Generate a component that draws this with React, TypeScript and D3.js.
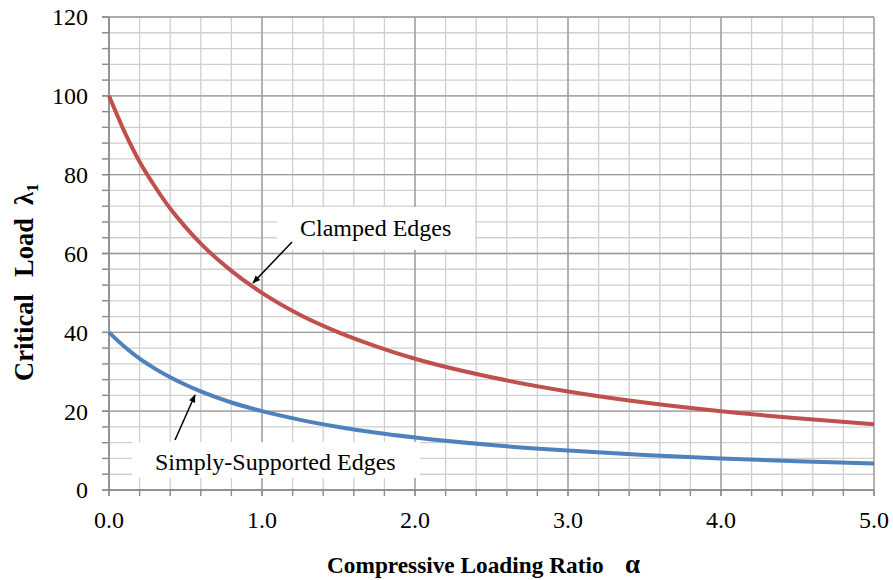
import React from 'react';
import * as d3 from 'd3';

const alpha = [0, 0.1, 0.2, 0.3, 0.4, 0.5, 0.6, 0.8, 1.0, 1.25, 1.5, 1.75, 2.0, 2.5, 3.0, 3.5, 4.0, 4.5, 5.0];
const clamped = [100, 91, 83.3, 77, 71.4, 66.7, 62.5, 55.6, 50, 44.4, 40, 36.4, 33.3, 28.6, 25, 22.2, 20, 18.2, 16.7];
const simply = [40, 36.4, 33.3, 30.8, 28.6, 26.7, 25, 22.2, 20, 17.8, 16, 14.5, 13.3, 11.4, 10, 8.9, 8, 7.3, 6.7];

const xMajor = [0, 1, 2, 3, 4, 5];
const yMajor = [0, 20, 40, 60, 80, 100, 120];

const W = 893;
const H = 580;
const margin = { top: 17, right: 19, bottom: 90, left: 109 };

const App = () => {
  const x = d3.scaleLinear().domain([0, 5]).range([margin.left, W - margin.right]);
  const y = d3.scaleLinear().domain([0, 120]).range([H - margin.bottom, margin.top]);

  const xMinor = d3.range(0, 5.0001, 0.2);
  const yMinor = d3.range(0, 120.001, 4);

  const line = d3.line<number>()
    .x((d, i) => x(alpha[i]))
    .y(d => y(d))
    .curve(d3.curveMonotoneX);

  const font = '"Liberation Serif", "Times New Roman", serif';
  const x0 = x(0), x1 = x(5), y0 = y(0), y1 = y(120);

  return (
    <svg width={W} height={H} style={{ position: 'absolute', left: 0, top: 0, background: '#fff', fontFamily: font }}>
      {/* minor grid */}
      {xMinor.map((v, i) => (
        <line key={'xm' + i} x1={x(v)} x2={x(v)} y1={y1} y2={y0 + 6} stroke="#cfcfcf" strokeWidth={1.3} />
      ))}
      {yMinor.map((v, i) => (
        <line key={'ym' + i} x1={x0 - 7} x2={x1} y1={y(v)} y2={y(v)} stroke="#cfcfcf" strokeWidth={1.3} />
      ))}
      {/* major grid */}
      {xMajor.map(v => (
        <line key={'xM' + v} x1={x(v)} x2={x(v)} y1={y1} y2={y0 + 6} stroke="#9a9a9a" strokeWidth={1.3} />
      ))}
      {yMajor.map(v => (
        <line key={'yM' + v} x1={x0 - 7} x2={x1} y1={y(v)} y2={y(v)} stroke="#9a9a9a" strokeWidth={1.3} />
      ))}
      {/* ticks */}
      {xMinor.map((v, i) => (
        <line key={'xt' + i} x1={x(v)} x2={x(v)} y1={y0} y2={y0 + 6} stroke="#8a8a8a" strokeWidth={1.3} />
      ))}
      {yMinor.map((v, i) => (
        <line key={'yt' + i} x1={x0 - 7} x2={x0} y1={y(v)} y2={y(v)} stroke="#8a8a8a" strokeWidth={1.3} />
      ))}
      <line x1={x0} x2={x0} y1={y1} y2={y0} stroke="#8a8a8a" strokeWidth={1.5} />
      <line x1={x0} x2={x1} y1={y0} y2={y0} stroke="#8a8a8a" strokeWidth={1.5} />

      {/* label boxes */}
      <rect x={277} y={207} width={198} height={43} fill="#fff" />
      <rect x={132} y={442} width={288} height={36} fill="#fff" />

      {/* curves */}
      <path d={line(clamped) || ''} fill="none" stroke="#c0504d" strokeWidth={4} />
      <path d={line(simply) || ''} fill="none" stroke="#4f81bd" strokeWidth={4} />

      {/* tick labels */}
      {yMajor.map(v => (
        <text key={'yl' + v} x={x0 - 21} y={y(v)} dy="0.35em" textAnchor="end" fontSize={24} fill="#000">{v}</text>
      ))}
      {xMajor.map(v => (
        <text key={'xl' + v} x={x(v)} y={528} textAnchor="middle" fontSize={24} fill="#000">{v.toFixed(1)}</text>
      ))}

      {/* annotations */}
      <defs>
        <marker id="arrow" viewBox="0 0 10 10" refX="9" refY="5" markerWidth="9" markerHeight="8" markerUnits="userSpaceOnUse" orient="auto">
          <path d="M0,1 L10,5 L0,9 z" fill="#000" />
        </marker>
      </defs>
      <text x={300} y={236} fontSize={24} fill="#000">Clamped Edges</text>
      <line x1={292} y1={242} x2={253} y2={283} stroke="#000" strokeWidth={1.5} markerEnd="url(#arrow)" />
      <text x={155} y={470} fontSize={24} fill="#000">Simply-Supported Edges</text>
      <line x1={175} y1={440} x2={195} y2={395} stroke="#000" strokeWidth={1.5} markerEnd="url(#arrow)" />

      {/* axis titles */}
      <text x={327} y={573} fontSize={23.3} fontWeight="bold" fill="#000">Compressive Loading Ratio</text>
      <text x={625} y={573} fontSize={27} fontWeight="bold" fill="#000">α</text>
      <g transform="translate(33,381) rotate(-90)" fontSize={26.5} fontWeight="bold" fill="#000">
        <text x={0} y={0}>Critical</text>
        <text x={104} y={0}>Load</text>
        <text x={176} y={0}>λ<tspan fontSize={17} dy={5}>1</tspan></text>
      </g>
    </svg>
  );
};

export default App;
